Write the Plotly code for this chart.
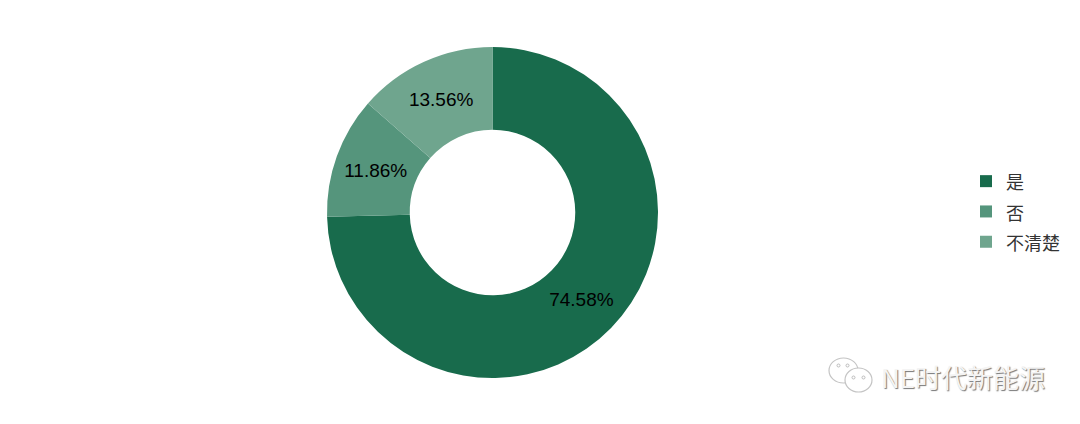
import plotly.graph_objects as go

categories = ["是", "否", "不清楚"]
values = [74.58, 11.86, 13.56]
labels_text = ["74.58%", "11.86%", "13.56%"]
colors = ["#186B4C", "#55957C", "#6FA58E"]
W, H = 1080, 424

def px(x):
    return x / W

def py(y):
    return 1 - y / H

legend_names = [f"<span style='font-size:18px'>{c}</span>" for c in categories]

fig = go.Figure()
fig.add_trace(go.Pie(
    labels=legend_names, values=values, hole=0.5, sort=False, direction="clockwise",
    rotation=0, text=labels_text, textinfo="text", textposition="inside",
    insidetextorientation="horizontal",
    textfont=dict(family="Liberation Sans, Arial", size=19, color="#000000"),
    marker=dict(colors=colors, line=dict(width=0)),
    domain=dict(x=[px(327), px(658)], y=[py(378), py(47)]),
    showlegend=True,
))

# WeChat-style watermark bubbles
shapes = []
for x0, y0, x1, y1 in [(829, 358, 858, 383), (845, 368, 872, 392)]:
    shapes.append(dict(type="circle", xref="paper", yref="paper",
                       x0=px(x0), x1=px(x1), y0=py(y1), y1=py(y0),
                       fillcolor="#FFFFFF", line=dict(color="#C4C4C4", width=1.2)))
for x0, y0 in [(837, 364), (846, 364), (852, 376), (862, 376)]:
    shapes.append(dict(type="circle", xref="paper", yref="paper",
                       x0=px(x0), x1=px(x0 + 3), y0=py(y0 + 3), y1=py(y0),
                       fillcolor="#FFFFFF", line=dict(color="#BDBDBD", width=1)))

fig.update_layout(
    width=W, height=H, margin=dict(l=0, r=0, t=0, b=0),
    paper_bgcolor="#FFFFFF", plot_bgcolor="#FFFFFF",
    font=dict(family="Noto Sans CJK SC, Liberation Sans", size=21, color="#333333"),
    legend=dict(x=px(966), y=py(161), xanchor="left", yanchor="top",
                font=dict(size=21, color="#333333"), itemwidth=30,
                bgcolor="rgba(0,0,0,0)"),
    shapes=shapes,
    annotations=[dict(text="NE时代新能源", x=px(1047), y=py(376), xref="paper", yref="paper",
                      xanchor="right", yanchor="middle", showarrow=False,
                      font=dict(size=26, color="#F4F4F4", family="Noto Sans CJK SC",
                                shadow="1px 1px 1px #777777"))],
)
fig.write_html("out.html", config=dict(displayModeBar=False),
               post_script="document.body.style.margin='0';document.body.style.overflow='hidden';")
